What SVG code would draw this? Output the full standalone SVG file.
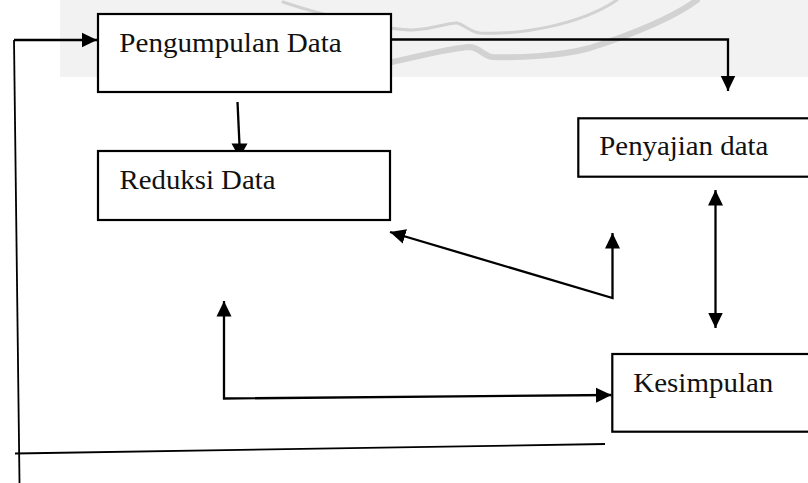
<svg xmlns="http://www.w3.org/2000/svg" width="808" height="483" viewBox="0 0 808 483">
<defs>
<style>
.box{fill:#fff;stroke:#000;stroke-width:2.2}
.lbl{font-family:"Liberation Serif","Times New Roman",serif;font-size:28px;fill:#111}
.con{fill:none;stroke:#000;stroke-width:2.3}
.thin{fill:none;stroke:#000;stroke-width:1.8}
.wm{fill:none;stroke:#d2d2d2;stroke-linecap:round}
</style>
<marker id="ah" markerUnits="userSpaceOnUse" markerWidth="17" markerHeight="17" viewBox="0 0 17 17" refX="15.5" refY="8" orient="auto-start-reverse">
<path d="M0,0.5 L15.5,8 L0,15.5 z" fill="#000"/>
</marker>
</defs>
<rect width="808" height="483" fill="#fff"/>
<g id="watermark">
<rect x="60" y="0" width="748" height="77" fill="#f2f2f2"/>
<path class="wm" stroke-width="3" d="M283,2 C330,18 390,30 413,30 C440,28 450,22 457,23 C465,25 470,32 480,33 C520,35 580,25 617,0"/>
<path class="wm" stroke-width="6" d="M392,62 C420,56 450,48 470,47 C480,48 484,56 492,57 C520,58 560,56 590,48 C630,35 670,20 697,0"/>
</g>
<g id="connectors">
<path class="thin" d="M14,40 L19.5,483"/>
<path class="con" d="M14,40 L97,40" marker-end="url(#ah)"/>
<path class="thin" d="M15,453.5 L605,444"/>
<path class="con" d="M390,39.5 L728,39.5 L728,91" marker-end="url(#ah)"/>
<path class="con" d="M237.5,102 L239.5,145"/>
<polygon points="231.5,143.5 247.5,143.5 239.5,158" fill="#000"/>
<path class="con" d="M715.5,190 L715.5,328" marker-start="url(#ah)" marker-end="url(#ah)"/>
<path class="con" d="M390,232 L612.5,298 L612.5,233" marker-start="url(#ah)" marker-end="url(#ah)"/>
<path class="con" d="M224,301 L224,398.5 L611.5,395" marker-start="url(#ah)" marker-end="url(#ah)"/>
</g>
<g id="pengumpulan">
<rect class="box" x="98" y="14" width="293" height="78"/>
<text class="lbl" x="119.3" y="51.7" textLength="222.4" lengthAdjust="spacingAndGlyphs">Pengumpulan Data</text>
</g>
<g id="reduksi">
<rect class="box" x="98" y="151" width="292" height="69"/>
<text class="lbl" x="119.5" y="189.3" textLength="156" lengthAdjust="spacingAndGlyphs">Reduksi Data</text>
</g>
<g id="penyajian">
<rect class="box" x="578.3" y="118.3" width="240" height="58.4"/>
<text class="lbl" x="599.3" y="155" textLength="169" lengthAdjust="spacingAndGlyphs">Penyajian data</text>
</g>
<g id="kesimpulan">
<rect class="box" x="612.3" y="354" width="210" height="77.7"/>
<text class="lbl" x="633.3" y="391.7" textLength="140" lengthAdjust="spacingAndGlyphs">Kesimpulan</text>
</g>
</svg>
